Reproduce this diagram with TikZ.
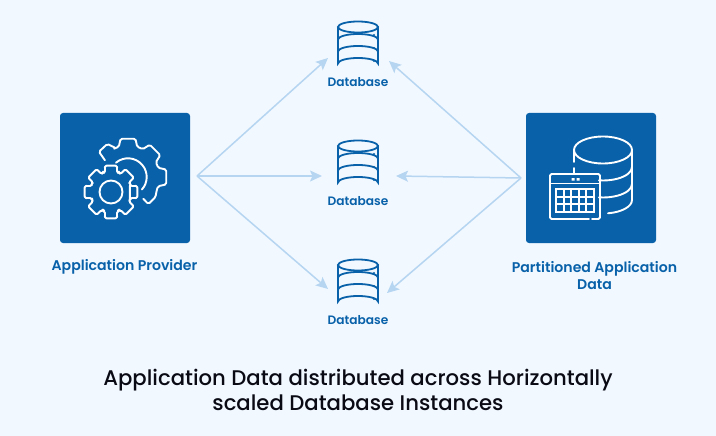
\documentclass[tikz,border=0pt]{standalone}
\usepackage{fontspec}
\setmainfont{Poppins}[UprightFont=* Medium,BoldFont=* SemiBold]
\usetikzlibrary{arrows.meta}
\definecolor{bgc}{HTML}{F1F8FF}
\definecolor{blu}{HTML}{0861A9}
\definecolor{arr}{HTML}{B6D5F1}
\definecolor{ink}{HTML}{0A0A14}
\tikzset{
  iconbox/.style={fill=blu,rounded corners=3pt},
  wh/.style={draw=white,line width=1.9pt,line cap=round,line join=round},
  dbline/.style={draw=blu,line width=1.8pt,line cap=round},
  conn/.style={draw=arr,line width=1.5pt,-{Stealth[length=12pt,width=11pt,inset=2.5pt]}},
  lab/.style={text=blu,font=\fontsize{14.1}{17}\selectfont\bfseries,align=center,inner sep=0pt},
  dblab/.style={text=blu,font=\fontsize{12.2}{15}\selectfont\bfseries,inner sep=0pt},
  ttl/.style={text=ink,font=\fontsize{21.2}{25}\selectfont,align=center,inner sep=0pt}
}
\newcommand{\dbicon}[2]{%
  \begin{scope}[shift={(#1,#2)}]
    \draw[dbline] (0,0) ellipse (20 and 5.5);
    \draw[dbline] (-20,0) -- (-20,36.5) arc[start angle=180,end angle=360,x radius=20,y radius=5.5] -- (20,0);
    \draw[dbline] (-20,12.5) arc[start angle=180,end angle=360,x radius=20,y radius=5.5];
    \draw[dbline] (-20,24.5) arc[start angle=180,end angle=360,x radius=20,y radius=5.5];
    \foreach \yy in {8,21,34} \fill[blu] (16,\yy) circle (1.2);
  \end{scope}}
\begin{document}
\begin{tikzpicture}[x=1pt,y=-1pt]
\useasboundingbox (0,0) rectangle (716,436);
\fill[bgc] (0,0) rectangle (716,436);
% boxes
\path[iconbox] (60,113) rectangle (190,243);
\path[iconbox] (526,113) rectangle (656,243);
% big gear
\begin{scope}[shift={(128,177)},y=1pt]
  \draw[wh,rounded corners=1.6pt] (144:28.5) -- (139:38.5) -- (122:39) -- (113:31.5)
   foreach \a in {90,45,0} { -- (\a+24:31.5) -- (\a+17:31.5) -- (\a+11:39) -- (\a-11:39) -- (\a-17:31.5) -- (\a-24:31.5) }
   -- (-36:34) -- (-53:34) -- (-55:26.5);
  \draw[wh] (130:18.7) arc[start angle=130,end angle=-42,radius=18.7];
\end{scope}
% small gear
\begin{scope}[shift={(111,192)},y=1pt]
  \draw[wh,rounded corners=1.4pt] (22.5:20.5)
   foreach \a in {0,45,...,315} { -- (\a-22.5:20.5) -- (\a-17:20.5) -- (\a-13:27) -- (\a+13:27) -- (\a+17:20.5) -- (\a+22.5:20.5) } -- cycle;
  \draw[wh] (0,0) circle (11.5);
\end{scope}
% partitioned data icon
\begin{scope}[shift={(603,150)}]
  \draw[wh] (0,0) ellipse (29 and 13.5);
  \draw[wh] (-29,0) -- (-29,12);
  \draw[wh] (-29,18) -- (-29,23);
  \draw[wh] (29,0) -- (29,50) arc[start angle=0,end angle=80,x radius=29,y radius=13.5];
  \draw[wh] (29,17) arc[start angle=0,end angle=98,x radius=29,y radius=13.5];
  \draw[wh] (29,34) arc[start angle=0,end angle=98,x radius=29,y radius=13.5];
\end{scope}
\draw[wh,rounded corners=1.5pt] (592,219) -- (600,219) -- (600,174) -- (550,174) -- (550,219) -- (589,219);
\draw[wh] (550,183.5) -- (600,183.5);
\fill[white] (571.5,178) rectangle (574.5,180.5) (576.5,178) rectangle (579.5,180.5);
% calendar grid: white panel with five by three blue cells
\fill[white] (555,188) rectangle (595,213);
\foreach \xx in {0,1,2,3,4} \foreach \yy in {0,1,2}
  \fill[blu] (557+7.6*\xx,190+7.5*\yy) rectangle ++(5.6,5.5);
% database icons
\dbicon{358}{27}
\dbicon{358}{146}
\dbicon{358}{265}
% labels
\node[lab] (prov) at (124.5,267) {Application Provider};
\node[lab] (part) at (594.5,275.5) {Partitioned Application\\Data};
\node[dblab] (db1) at (358,82) {Database};
\node[dblab] (db2) at (358,201) {Database};
\node[dblab] (db3) at (358,320) {Database};
\node[ttl] (title) at (358,389.5) {Application Data distributed across Horizontally\\scaled Database Instances};
% connectors
\coordinate (hubl) at (197,176);
\coordinate (hubr) at (521,178);
\coordinate (l1) at (328,58);
\coordinate (l2) at (322,176);
\coordinate (l3) at (328,289);
\coordinate (r1) at (389,61);
\coordinate (r2) at (396,176);
\coordinate (r3) at (387,293);
\foreach \t in {l1,l2,l3} \draw[conn] (hubl) -- (\t);
\foreach \t in {r1,r2,r3} \draw[conn] (hubr) -- (\t);
\end{tikzpicture}
\end{document}
